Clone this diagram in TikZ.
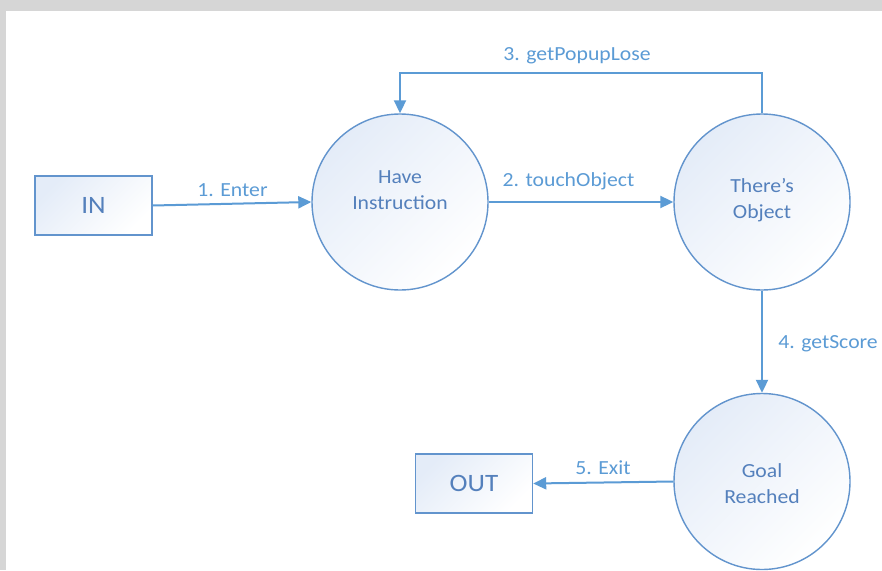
\documentclass[tikz,border=0pt]{standalone}
\usepackage{fontspec}
\setmainfont{Carlito}[FakeStretch=1.085]
\usetikzlibrary{arrows.meta}
\definecolor{flow}{RGB}{91,155,213}
\definecolor{edge}{RGB}{98,148,205}
\definecolor{ink}{RGB}{84,128,188}
\definecolor{tint}{RGB}{228,236,248}
\definecolor{frame}{RGB}{214,214,214}
\tikzset{
  stategraph/.style={x=1pt,y=-1pt},
  proc/.style={circle,draw=edge,line width=1.4pt,minimum size=176pt,inner sep=0pt,
    top color=tint,bottom color=white,shading angle=45},
  procname/.style={text=ink,align=center,font=\fontsize{20}{26}\selectfont},
  term/.style={rectangle,draw=edge,line width=1.4pt,inner sep=0pt,
    minimum width=117pt,minimum height=59pt,
    top color=tint,bottom color=white,shading angle=45,
    text=ink,font=\fontsize{25}{28}\selectfont},
  flowline/.style={draw=flow,line width=2pt,-{Triangle[length=13pt,width=12pt]}},
  lbl/.style={text=flow,anchor=base,inner sep=0pt,font=\fontsize{20}{24}\selectfont}
}
\begin{document}
\begin{tikzpicture}[stategraph]
  % page and frame
  \fill[frame] (0,0) rectangle (882,570);
  \fill[white] (6,11) rectangle (882,570);
  \useasboundingbox (0,0) rectangle (882,570);

  % entities and processes
  \node[term] (in) at (93.5,205.5) {IN};
  \node[term] (out) at (474,483.5) {OUT};
  \node[proc,label={[procname,yshift=12pt]center:{Have\\Instruction}}] (have) at (400,202) {};
  \node[proc,label={[procname,yshift=2pt]center:{There’s\\Object}}] (obj) at (762,202) {};
  \node[proc,label={[procname,yshift=-2pt]center:{Goal\\Reached}}] (goal) at (762,481.5) {};

  % flows
  \draw[flowline] (in.east) -- (have.west);
  \draw[flowline] (have.east) -- (obj.west);
  \draw[flowline] (obj.north) -- ++(0,-40) -| (have.north);
  \draw[flowline] (obj.south) -- (goal.north);
  \draw[flowline] (goal.west) -- (out.east);

  % flow labels
  \node[lbl] (l1) at (232.5,196) {1. Enter};
  \node[lbl] (l2) at (568.5,186) {2. touchObject};
  \node[lbl] (l3) at (577,60) {3. getPopupLose};
  \node[lbl] (l4) at (828,348) {4. getScore};
  \node[lbl] (l5) at (603,474) {5. Exit};
\end{tikzpicture}
\end{document}
